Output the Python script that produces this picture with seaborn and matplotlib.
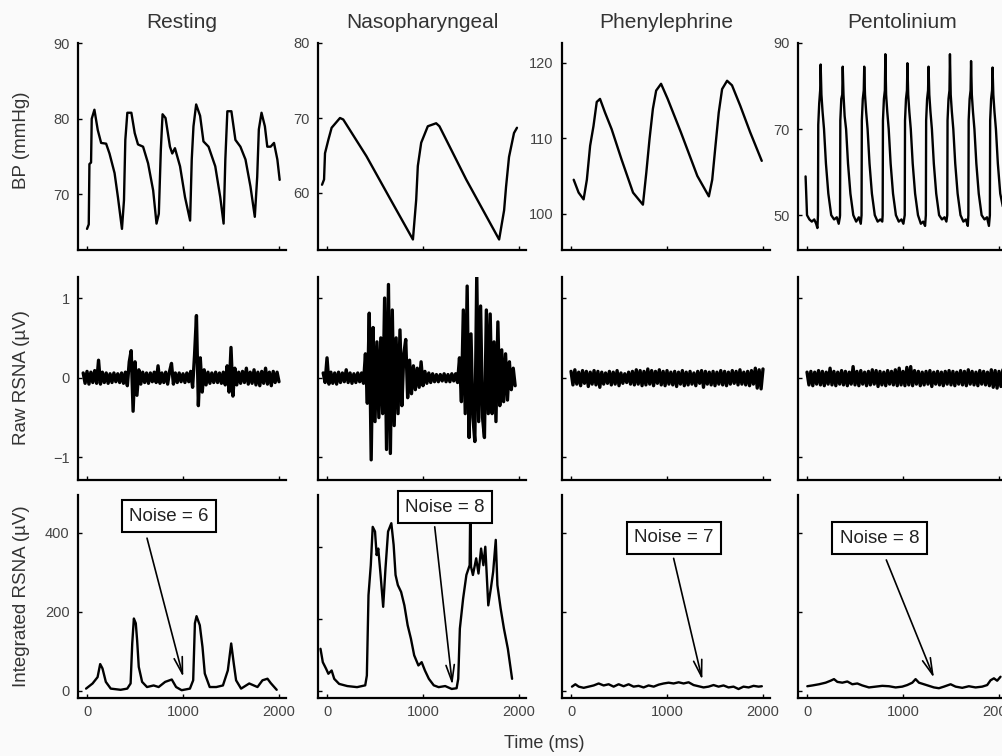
import numpy as np
import pandas as pd
import matplotlib
matplotlib.use("Agg")
import matplotlib.pyplot as plt
import seaborn as sns

# ---------------- data ----------------
conditions = ["Resting", "Nasopharyngeal", "Phenylephrine", "Pentolinium"]
noise_values = [6, 8, 7, 8]

# Blood pressure traces (time ms, mmHg)
bp_rest_t = [0, 18, 25, 42, 49, 77, 112, 147, 199, 234, 287, 322, 364, 385, 399, 420, 462, 497, 531,
             584, 636, 689, 724, 748, 769, 787, 818, 864, 888, 916, 969, 1021, 1074, 1091, 1109, 1137,
             1178, 1213, 1266, 1336, 1388, 1423, 1441, 1462, 1504, 1546, 1598, 1651, 1703, 1748, 1773,
             1790, 1818, 1853, 1878, 1913, 1948, 1983, 2007]
bp_rest_v = [65.4, 66, 74, 74.2, 80, 81.2, 78.5, 76.8, 76.7, 75.4, 72.8, 69.6, 65.4, 69.2, 77.2, 80.8,
             80.8, 78.1, 76.6, 76.3, 74.1, 70.5, 66.1, 67.4, 75.9, 80.6, 80.1, 76.3, 75.4, 76.1, 73.7,
             69.6, 66.5, 74.6, 79.0, 81.9, 80.4, 77.0, 76.3, 73.7, 69.6, 66.1, 74.6, 81.0, 81.0, 77.2,
             76.3, 74.6, 71.0, 67.0, 72.3, 78.6, 80.8, 79.0, 76.3, 76.3, 76.8, 74.6, 71.9]

bp_naso_t = [-52, -31, -21, 14, 48, 135, 169, 411, 650, 895, 929, 946, 981, 1050, 1137, 1171,
             1450, 1793, 1845, 1865, 1896, 1948, 1979]
bp_naso_v = [61.1, 61.8, 65.3, 67.1, 68.7, 70.0, 69.8, 64.9, 59.4, 53.8, 59.1, 63.6, 66.7, 68.9, 69.3,
             68.9, 61.8, 53.8, 57.7, 60.8, 64.8, 68.0, 68.7]

bp_phen_t = [28, 79, 131, 165, 199, 234, 268, 302, 354, 423, 526, 646, 749, 784, 818, 853, 887, 938,
             1007, 1144, 1316, 1436, 1471, 1505, 1539, 1574, 1626, 1677, 1763, 1866, 1987]
bp_phen_v = [104.5, 102.8, 101.9, 104.5, 109.0, 111.6, 114.8, 115.2, 113.4, 111.2, 107.2, 102.8, 101.2,
             105.4, 109.9, 113.9, 116.3, 117.2, 115.2, 110.8, 105.0, 102.3, 104.5, 109.0, 113.4, 116.5,
             117.6, 117.0, 114.3, 110.8, 107.0]

bp_pent_t = [-15, -8, 0, 25, 50, 75, 95, 108, 114, 117, 127, 137, 142, 150, 162, 177, 197, 222, 252, 282, 310, 330, 342,
             344, 347, 357, 367, 372, 380, 392, 407, 427, 452, 482, 512, 540, 560, 568,
             571, 581, 591, 596, 604, 616, 631, 651, 676, 706, 736, 764, 784, 788,
             791, 801, 811, 816, 824, 836, 851, 871, 896, 926, 956, 984, 1004, 1018,
             1021, 1031, 1041, 1046, 1054, 1066, 1081, 1101, 1126, 1156, 1186, 1210, 1230, 1238,
             1241, 1251, 1261, 1266, 1274, 1286, 1301, 1321, 1346, 1376, 1406, 1432, 1452, 1461,
             1464, 1474, 1484, 1489, 1497, 1509, 1524, 1544, 1569, 1599, 1629, 1655, 1675, 1681,
             1684, 1694, 1704, 1709, 1717, 1729, 1744, 1764, 1789, 1819, 1849, 1875, 1895, 1905,
             1908, 1918, 1928, 1933, 1941, 1953, 1968, 1988, 2013, 2040]
bp_pent_v = [59, 55, 50, 49, 48.5, 49, 48, 47, 50, 71, 76, 79, 85, 78, 74, 70, 62, 55, 50, 49, 49.5, 48, 49.5,
             50, 72, 77, 78, 84.5, 78, 73, 70, 62, 55, 50, 48.5, 49.5, 48, 50,
             72, 77, 79, 84.5, 78, 74, 70, 62, 55, 50, 48.5, 49, 48.5, 50,
             72, 77, 79, 87.4, 78, 74, 70, 62, 55, 50, 48.5, 49, 48, 50,
             72, 77, 79, 85.3, 78, 74, 70, 62, 55, 50, 48, 48.5, 47.5, 50,
             72, 77, 79, 84.5, 78, 74, 70, 62, 55, 50, 49, 49.5, 48.5, 50,
             72, 77, 79, 87.4, 78, 74, 70, 62, 55, 50, 48.5, 49, 47.5, 50,
             72, 77, 79, 85.8, 78, 74, 70, 62, 55, 50, 49, 49.5, 47.5, 50,
             72, 77, 79, 84.3, 78, 74, 70, 62, 55, 52]

# Raw RSNA (uV), sampled every 20 ms from the listed start time
raw_dt = 20
raw_rest_start = -40
raw_rest = [0.06, -0.07, 0.08, -0.08, 0.07, -0.06, 0.09, -0.07, 0.22, -0.08,
            0.07, -0.06, 0.06, -0.07, 0.05, -0.06, 0.06, -0.05, 0.05, -0.06,
            0.06, -0.07, 0.07, -0.10, 0.20, 0.34, -0.42, 0.20, -0.22, 0.10,
            -0.08, 0.07, -0.06, 0.06, -0.07, 0.06, -0.05, 0.07, -0.06, 0.15,
            -0.07, 0.06, -0.06, 0.07, -0.08, 0.08, 0.18, -0.08, 0.06, -0.06,
            0.06, -0.05, 0.05, -0.06, 0.06, -0.05, 0.08, -0.12, 0.28, 0.78,
            -0.35, 0.25, -0.18, 0.10, -0.09, 0.07, -0.07, 0.06, -0.06, 0.07,
            -0.06, 0.06, -0.07, 0.07, -0.09, 0.15, -0.18, 0.38, -0.23, 0.12,
            -0.09, 0.07, -0.07, 0.08, -0.06, 0.12, -0.08, 0.07, -0.07, 0.10,
            -0.09, 0.07, -0.10, 0.08, -0.07, 0.12, -0.08, 0.07, -0.10, 0.08,
            -0.06, 0.07, -0.05]
raw_naso_start = -40
raw_naso = [0.06, -0.06, 0.25, -0.08, 0.07, -0.07, 0.06, -0.08, 0.07, -0.06,
            0.06, -0.05, 0.10, -0.06, 0.06, -0.07, 0.05, -0.06, 0.06, -0.05,
            0.06, -0.07, 0.30, -0.32, 0.81, -1.03, 0.63, -0.55, 0.45, -0.50,
            0.50, -0.45, 1.00, -0.90, 1.17, -0.95, 0.85, -0.60, 0.50, -0.45,
            0.60, -0.35, 0.30, 0.48, -0.25, 0.22, -0.20, 0.15, -0.15, 0.12,
            -0.12, 0.20, -0.10, 0.08, -0.07, 0.06, -0.06, 0.05, -0.05, 0.04,
            -0.05, 0.04, -0.04, 0.05, -0.05, 0.04, -0.05, 0.05, -0.04, 0.05,
            -0.06, 0.25, -0.30, 0.85, -0.45, 1.15, -0.75, 0.55, -0.50, -0.80,
            1.30, -0.55, 0.90, -0.50, -0.75, 0.85, -0.45, 0.80, -0.45, 0.45,
            -0.55, 0.70, -0.35, 0.35, -0.30, 0.30, -0.28, 0.20, -0.15, 0.12,
            -0.10]
raw_phen_start = 0
raw_phen = [0.08, -0.09, 0.10, -0.08, 0.07, -0.10, 0.09, -0.07, 0.08, -0.11,
            0.07, -0.08, 0.09, -0.09, 0.08, -0.12, 0.07, -0.08, 0.06, -0.07,
            0.08, -0.09, 0.07, -0.08, 0.09, -0.10, 0.06, -0.07, 0.05, -0.06,
            0.07, -0.08, 0.08, -0.09, 0.10, -0.08, 0.09, -0.10, 0.08, -0.09,
            0.11, -0.08, 0.09, -0.10, 0.08, -0.07, 0.10, -0.09, 0.08, -0.10,
            0.09, -0.08, 0.07, -0.09, 0.08, -0.11, 0.07, -0.08, 0.09, -0.10,
            0.07, -0.09, 0.08, -0.08, 0.06, -0.10, 0.08, -0.07, 0.09, -0.12,
            0.08, -0.08, 0.07, -0.09, 0.08, -0.10, 0.07, -0.08, 0.09, -0.09,
            0.08, -0.10, 0.07, -0.08, 0.09, -0.07, 0.08, -0.09, 0.10, -0.08,
            0.07, -0.09, 0.08, -0.10, 0.09, -0.08, 0.12, -0.13, 0.10, -0.14,
            0.11]
raw_pent_start = 0
raw_pent = [0.07, -0.09, 0.08, -0.10, 0.07, -0.08, 0.09, -0.09, 0.08, -0.10,
            0.07, -0.08, 0.12, -0.09, 0.08, -0.10, 0.07, -0.08, 0.09, -0.09,
            0.08, -0.10, 0.07, -0.08, 0.14, -0.09, 0.08, -0.10, 0.09, -0.08,
            0.07, -0.10, 0.08, -0.09, 0.10, -0.08, 0.09, -0.11, 0.08, -0.09,
            0.07, -0.10, 0.09, -0.08, 0.08, -0.09, 0.10, -0.10, 0.12, -0.09,
            0.08, -0.10, 0.13, -0.09, 0.14, -0.10, 0.09, -0.08, 0.08, -0.10,
            0.07, -0.09, 0.08, -0.08, 0.09, -0.11, 0.07, -0.08, 0.08, -0.09,
            0.07, -0.10, 0.08, -0.08, 0.09, -0.09, 0.08, -0.10, 0.07, -0.08,
            0.09, -0.09, 0.08, -0.10, 0.10, -0.08, 0.08, -0.09, 0.07, -0.10,
            0.09, -0.08, 0.08, -0.09, 0.07, -0.10, 0.10, -0.12, 0.09, -0.13,
            0.08, -0.11, 0.10]

# Integrated RSNA (uV)
int_rest_t = [-10, 58, 110, 137, 161, 196, 247, 350, 419, 454, 471, 488, 508, 522, 539, 574, 625, 694,
              746, 814, 883, 928, 986, 1072, 1106, 1124, 1141, 1175, 1203, 1227, 1278, 1347, 1416, 1467,
              1502, 1529, 1553, 1605, 1690, 1776, 1828, 1880, 1914, 1976]
int_rest_v = [6, 19, 35, 68, 57, 23, 6, 3, 6, 19, 120, 183, 171, 128, 61, 23, 10, 14, 10, 23, 29, 10, 2,
              6, 27, 171, 189, 166, 111, 44, 10, 10, 14, 52, 120, 69, 27, 6, 19, 10, 27, 31, 20, 3]
int_naso_t = [-68, -44, -10, 14, 48, 75, 126, 211, 313, 398, 415, 432, 456, 476, 500, 517, 534, 558, 585,
              609, 636, 670, 694, 714, 738, 772, 806, 840, 874, 908, 952, 986, 1020, 1061, 1112, 1163,
              1231, 1299, 1350, 1367, 1384, 1418, 1452, 1486, 1493, 1500, 1520, 1554, 1578, 1605, 1629,
              1649, 1680, 1707, 1731, 1758, 1775, 1809, 1843, 1884, 1928]
int_naso_v = [118, 81, 63, 49, 58, 35, 21, 15, 12, 17, 44, 266, 349, 455, 442, 377, 395, 322, 234, 340,
              442, 465, 405, 322, 294, 275, 238, 183, 146, 100, 72, 81, 58, 35, 17, 12, 15, 7, 9, 35, 174,
              257, 322, 349, 530, 345, 322, 368, 326, 395, 349, 400, 238, 285, 331, 419, 294, 229, 174,
              118, 35]
int_phen_t = [10, 45, 80, 132, 184, 236, 288, 340, 392, 444, 496, 548, 600, 652, 704, 756, 808, 861, 913,
              965, 1017, 1069, 1121, 1173, 1225, 1277, 1329, 1381, 1433, 1485, 1537, 1589, 1641, 1693,
              1745, 1797, 1850, 1902, 1954, 1988]
int_phen_v = [11, 17, 11, 8, 11, 14, 19, 14, 17, 11, 17, 12, 17, 11, 13, 9, 14, 11, 16, 19, 21, 19, 22,
              19, 22, 15, 12, 9, 11, 15, 11, 14, 9, 11, 5, 11, 9, 13, 11, 12]
int_pent_t = [3, 56, 125, 194, 246, 281, 316, 368, 420, 472, 524, 576, 645, 715, 784, 854, 923, 992, 1044,
              1097, 1131, 1166, 1218, 1270, 1322, 1374, 1426, 1496, 1548, 1617, 1686, 1756, 1825, 1877,
              1912, 1947, 1981, 2016]
int_pent_v = [12, 14, 17, 21, 26, 30, 23, 21, 24, 17, 19, 14, 9, 11, 13, 12, 9, 11, 15, 21, 30, 21, 17,
              13, 9, 7, 11, 17, 11, 8, 12, 9, 11, 15, 27, 32, 26, 36]

x_ticks = [0, 1000, 2000]

# ---------------- layout / style ----------------
BP = [(bp_rest_t, bp_rest_v), (bp_naso_t, bp_naso_v), (bp_phen_t, bp_phen_v), (bp_pent_t, bp_pent_v)]
RAW = [(raw_rest_start, raw_rest), (raw_naso_start, raw_naso), (raw_phen_start, raw_phen), (raw_pent_start, raw_pent)]
INT = [(int_rest_t, int_rest_v), (int_naso_t, int_naso_v), (int_phen_t, int_phen_v), (int_pent_t, int_pent_v)]

bp_ylims = [(62.6, 90.05), (52.4, 80.0), (95.2, 122.6), (41.9, 90.0)]
bp_yticks = [[70, 80, 90], [60, 70, 80], [100, 110, 120], [50, 70, 90]]
raw_ylim = (-1.283, 1.264)
raw_yticks = [-1, 0, 1]
int_ylims = [(-17.7, 495), (-18, 543), (-17.7, 495), (-17.7, 495)]
int_yticks = [0, 200, 400]
xlim = (-94, 2073)

# annotation placement: box centre, arrow tail, arrow tip (data coords)
ann_box = [(852, 441), (1231, 509), (1072, 387), (755, 386)]
ann_tail = [(625, 386), (1122, 455), (1069, 335), (826, 331)]
ann_tip = [(1003, 35), (1306, 18), (1368, 28), (1323, 33)]

sns.set_theme(style="ticks")
plt.rcParams["font.family"] = ["Liberation Sans", "DejaVu Sans"]

BG = "#fafafa"
TXT = "#333333"
W, H = 1002, 756
col_left = [78, 318, 562, 798]
ax_w = 208
row_top = [43, 277, 495]
row_bot = [250, 480, 698]

fig = plt.figure(figsize=(W / 100, H / 100), dpi=100, facecolor=BG)


def make_ax(c, r):
    l = col_left[c] / W
    b = 1 - row_bot[r] / H
    h = (row_bot[r] - row_top[r]) / H
    ax = fig.add_axes([l, b, ax_w / W, h])
    ax.set_facecolor(BG)
    for s in ["top", "right"]:
        ax.spines[s].set_visible(False)
    for s in ["left", "bottom"]:
        ax.spines[s].set_linewidth(1.6)
        ax.spines[s].set_color("black")
    ax.tick_params(direction="in", length=3, width=1.0, color="black",
                   labelsize=10.5, labelcolor="#444444", pad=6)
    ax.set_xlim(*xlim)
    ax.set_xticks(x_ticks)
    return ax


line_kw = dict(color="black", linewidth=1.7, estimator=None, sort=False, legend=False)

for c in range(4):
    # BP row
    ax = make_ax(c, 0)
    t, v = BP[c]
    sns.lineplot(x=t, y=v, ax=ax, **line_kw)
    ax.set_xlim(*xlim)
    ax.set_ylim(*bp_ylims[c])
    ax.set_yticks(bp_yticks[c])
    ax.set_xticklabels([])
    ax.set_xlabel("")
    ax.set_ylabel("")

    # raw RSNA row
    ax = make_ax(c, 1)
    start, vals = RAW[c]
    tt = start + raw_dt * np.arange(len(vals))
    sns.lineplot(x=tt, y=vals, ax=ax, color="black", linewidth=2.4, estimator=None, sort=False,
                 legend=False)
    ax.set_xlim(*xlim)
    ax.set_ylim(*raw_ylim)
    ax.set_yticks(raw_yticks)
    ax.set_xticklabels([])
    if c > 0:
        ax.set_yticklabels([])
    ax.set_xlabel("")
    ax.set_ylabel("")

    # integrated RSNA row
    ax = make_ax(c, 2)
    t, v = INT[c]
    sns.lineplot(x=t, y=v, ax=ax, **line_kw)
    ax.set_xlim(*xlim)
    ax.set_ylim(*int_ylims[c])
    ax.set_yticks(int_yticks)
    if c > 0:
        ax.set_yticklabels([])
    ax.tick_params(axis="x", pad=5)
    ax.set_xlabel("")
    ax.set_ylabel("")

    ax.annotate("", xy=ann_tip[c], xytext=ann_tail[c],
                arrowprops=dict(arrowstyle="->,head_length=1.2,head_width=0.3",
                                color="black", lw=1.2, shrinkA=0, shrinkB=0, mutation_scale=10),
                zorder=6)
    ax.text(ann_box[c][0], ann_box[c][1], f"Noise = {noise_values[c]}", ha="center", va="center",
            fontsize=13.5, color="#222222", zorder=7, clip_on=False,
            bbox=dict(boxstyle="square,pad=0.4", fc="white", ec="black", lw=1.5))

    # column titles
    fig.text((col_left[c] + ax_w / 2) / W, 1 - 22 / H, conditions[c], ha="center", va="center",
             fontsize=15, color=TXT)

# row labels
row_labels = ["BP (mmHg)", "Raw RSNA (\u00b5V)", "Integrated RSNA (\u00b5V)"]
row_centres = [140, 378, 596]
for lab, yc in zip(row_labels, row_centres):
    fig.text(22 / W, 1 - yc / H, lab, rotation=90, ha="center", va="center", fontsize=13.5, color=TXT)

fig.text(544 / W, 1 - 743 / H, "Time (ms)", ha="center", va="center", fontsize=13, color=TXT)

fig.savefig("out.png", dpi=100, facecolor=BG)
